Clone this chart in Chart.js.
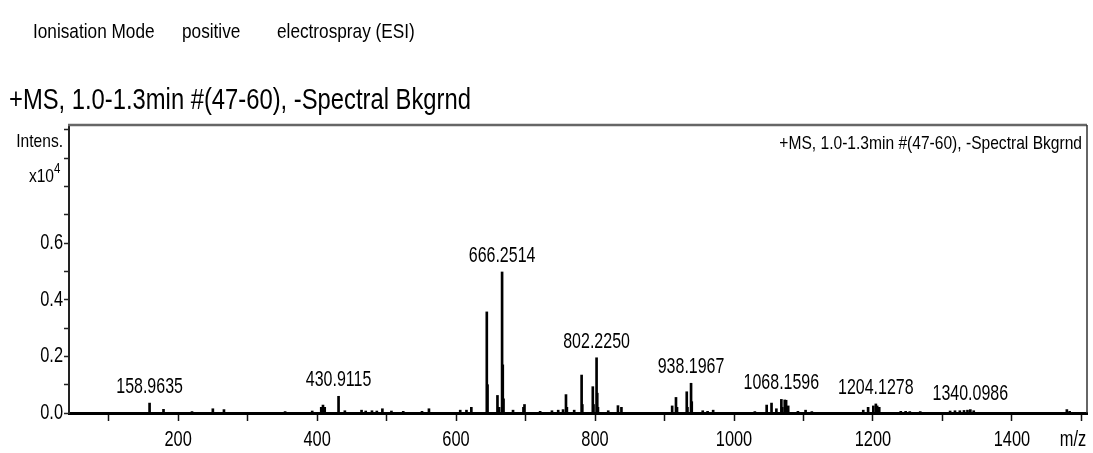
<!DOCTYPE html>
<html>
<head>
<meta charset="utf-8">
<script src="https://cdn.jsdelivr.net/npm/chart.js@4.4.1/dist/chart.umd.min.js"></script>
<style>
  html, body { margin: 0; padding: 0; background: #fff; }
  #wrap { position: relative; width: 1093px; height: 453px; overflow: hidden; }
  canvas { position: absolute; left: 0; top: 0; }
  .txt { position: absolute; white-space: pre; color: #000; transform-origin: left top; line-height: 1; }
</style>
</head>
<body>
<div id="wrap">
  <canvas id="ms" width="1093" height="453"></canvas>
  <div class="txt" id="h1" style="left:33px; top:20px; font-size:21px;">Ionisation Mode</div>
  <div class="txt" id="h2" style="left:182px; top:20px; font-size:21px;">positive</div>
  <div class="txt" id="h3" style="left:277px; top:20px; font-size:21px;">electrospray (ESI)</div>
  <div class="txt" id="t1" style="left:9px; top:85px; font-size:29px;">+MS, 1.0-1.3min #(47-60), -Spectral Bkgrnd</div>
</div>
<script>
// spectrum sticks: m/z and intensity (x10^4)
const peakMz = [158.9635, 179, 220, 250, 266, 354, 393, 406, 408.5, 411, 430.9115, 440, 464, 470, 479, 486, 494, 507, 524, 551, 561,
  606, 615, 622, 644.25, 645.3, 659.6, 662, 666.2514, 667.25, 668.3, 682, 697, 698.5, 721, 738, 747, 754, 758.2, 759.5, 770,
  780.7, 781.7, 796.8, 797.8, 802.2250, 803.2, 804.2, 819, 833, 838, 911, 916.5, 918, 932, 933, 938.1967, 939.2, 955, 962, 970,
  1030, 1047, 1054, 1061, 1068.1596, 1069.5, 1073, 1075, 1078, 1092, 1103, 1112, 1186, 1193, 1200.5, 1204.1278, 1206, 1209,
  1240, 1247, 1253, 1268, 1311, 1318, 1325, 1331, 1336, 1340.0986, 1345, 1479, 1483];
const peakInt = [0.035, 0.013, 0.005, 0.015, 0.012, 0.005, 0.007, 0.02, 0.028, 0.02, 0.059, 0.008, 0.01, 0.007, 0.008, 0.007, 0.015, 0.007, 0.006, 0.006, 0.015,
  0.01, 0.01, 0.02, 0.357, 0.1, 0.062, 0.02, 0.498, 0.17, 0.05, 0.01, 0.02, 0.03, 0.006, 0.008, 0.01, 0.012, 0.065, 0.02, 0.01,
  0.134, 0.03, 0.093, 0.03, 0.195, 0.07, 0.02, 0.008, 0.026, 0.02, 0.025, 0.055, 0.02, 0.075, 0.02, 0.105, 0.04, 0.008, 0.006, 0.01,
  0.005, 0.028, 0.035, 0.015, 0.048, 0.02, 0.046, 0.045, 0.025, 0.006, 0.01, 0.005, 0.01, 0.02, 0.025, 0.032, 0.025, 0.02,
  0.006, 0.006, 0.005, 0.005, 0.007, 0.008, 0.008, 0.009, 0.01, 0.012, 0.008, 0.012, 0.006];

// annotated peaks
const labelMz = [158.9635, 430.9115, 666.2514, 802.2250, 938.1967, 1068.1596, 1204.1278, 1340.0986];

// axes
const xTicks = [100, 200, 300, 400, 500, 600, 700, 800, 900, 1000, 1100, 1200, 1300, 1400, 1500];
const xTickLabels = ["", "200", "", "400", "", "600", "", "800", "", "1000", "", "1200", "", "1400", ""];
const yTicks = [0, 0.1, 0.2, 0.3, 0.4, 0.5, 0.6, 0.7, 0.8, 0.9, 1.0];
const yTickLabels = ["0.0", "", "0.2", "", "0.4", "", "0.6", "", "", "", ""];

// Arial Narrow clone if the box has it, else squeeze Liberation Sans
const NARROW = (function () {
  const c = document.createElement("canvas").getContext("2d");
  c.font = '40px "Liberation Sans Narrow", monospace';
  const a = c.measureText("Ionisation Mode").width;
  c.font = "40px monospace";
  return Math.abs(a - c.measureText("Ionisation Mode").width) > 1;
})();
const FAMILY = NARROW ? '"Liberation Sans Narrow"' : '"Liberation Sans", Arial, sans-serif';
const SQUEEZE = NARROW ? 1 : 0.82;

document.querySelectorAll(".txt").forEach(el => {
  el.style.fontFamily = FAMILY;
  if (SQUEEZE !== 1) el.style.transform = "scaleX(" + SQUEEZE + ")";
});

// tall = vertical stretch, the instrument printout draws its numbers a bit taller
function txt(ctx, s, x, y, size, align, tall) {
  ctx.save();
  ctx.font = size + "px " + FAMILY;
  ctx.fillStyle = "#000";
  ctx.textBaseline = "middle";
  ctx.textAlign = align || "center";
  ctx.translate(x, y);
  ctx.scale(SQUEEZE, tall || 1);
  ctx.fillText(s, 0, 0);
  ctx.restore();
}

const textPlugin = {
  id: "msText",
  afterDraw(chart) {
    const { ctx, chartArea: a, scales: { x, y } } = chart;
    // frame: top + right
    ctx.save();
    ctx.strokeStyle = "#666";
    ctx.lineWidth = 2.5;
    ctx.beginPath();
    ctx.moveTo(a.left - 1, a.top);
    ctx.lineTo(a.right, a.top);
    ctx.stroke();
    ctx.strokeStyle = "#333";
    ctx.lineWidth = 1.5;
    ctx.beginPath();
    ctx.moveTo(a.right, a.top);
    ctx.lineTo(a.right, a.bottom);
    ctx.stroke();
    ctx.restore();

    xTicks.forEach((v, i) => { if (xTickLabels[i]) txt(ctx, xTickLabels[i], x.getPixelForValue(v), 440, 20, "center", 1.1); });
    yTicks.forEach((v, i) => { if (yTickLabels[i]) txt(ctx, yTickLabels[i], 63, y.getPixelForValue(v), 20, "right", 1.1); });
    txt(ctx, "m/z", 1073, 440, 20, "center", 1.1);
    txt(ctx, "Intens.", 63, 142, 19, "right");
    txt(ctx, "x10", 54, 177, 19, "right");
    txt(ctx, "4", 54, 169, 14, "left");
    txt(ctx, "+MS, 1.0-1.3min #(47-60), -Spectral Bkgrnd", a.right - 5, 144, 19, "right");

    labelMz.forEach(m => {
      const i = peakMz.indexOf(m);
      txt(ctx, m.toFixed(4), x.getPixelForValue(m), y.getPixelForValue(peakInt[i]) - 16, 19.5, "center", 1.12);
    });
  }
};

new Chart(document.getElementById("ms"), {
  type: "bar",
  data: {
    datasets: [{
      data: peakMz.map((m, i) => ({ x: m, y: peakInt[i] })),
      backgroundColor: "#000",
      borderWidth: 0,
      barThickness: 2,
    }],
  },
  options: {
    responsive: false,
    animation: false,
    events: [],
    layout: { padding: { left: 0, top: 125, right: 6, bottom: 0 } },
    plugins: { legend: { display: false }, tooltip: { enabled: false } },
    scales: {
      x: {
        type: "linear",
        offset: false,
        min: 43,
        max: 1508,
        afterBuildTicks: (s) => { s.ticks = xTicks.map(v => ({ value: v })); },
        afterFit: (s) => { s.height = 40; },
        ticks: { display: false },
        grid: { offset: false, drawOnChartArea: false, drawTicks: true, tickLength: 8, tickColor: "#111", tickWidth: 1.5 },
        border: { color: "#000", width: 3 },
      },
      y: {
        min: 0,
        max: 1.017,
        afterBuildTicks: (s) => { s.ticks = yTicks.map(v => ({ value: v })); },
        afterFit: (s) => { s.width = 69; },
        ticks: { display: false },
        grid: { drawOnChartArea: false, drawTicks: true, tickLength: 5, tickColor: "#222", tickWidth: 1.5 },
        border: { color: "#222", width: 2 },
      },
    },
  },
  plugins: [textPlugin],
});
</script>
</body>
</html>
